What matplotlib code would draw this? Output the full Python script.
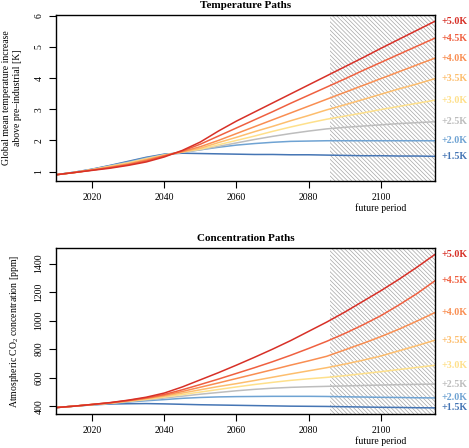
import matplotlib
matplotlib.use("Agg")
import matplotlib.pyplot as plt
from matplotlib.transforms import blended_transform_factory

years = [2010, 2015, 2020, 2025, 2030, 2035, 2040, 2045, 2050, 2055, 2060,
         2065, 2070, 2075, 2080, 2085, 2090, 2095, 2100, 2105, 2110, 2115]

path_labels = ['+1.5K', '+2.0K', '+2.5K', '+3.0K', '+3.5K', '+4.0K',
               '+4.5K', '+5.0K']
path_colors = ['#4575b4', '#6fa3d3', '#bdbdbd', '#fee08b', '#fdbe6e',
               '#f98e52', '#ef6040', '#d73027']

# global mean temperature increase [K]
temp_15 = [0.90, 0.98, 1.08, 1.20, 1.33, 1.46, 1.56, 1.59, 1.58, 1.57, 1.56,
           1.55, 1.55, 1.54, 1.54, 1.53, 1.52, 1.51, 1.51, 1.50, 1.50, 1.49]
temp_20 = [0.90, 0.98, 1.07, 1.19, 1.31, 1.44, 1.55, 1.62, 1.70, 1.78, 1.85,
           1.90, 1.94, 1.97, 1.98, 1.99, 1.99, 1.99, 1.99, 1.99, 1.99, 1.99]
temp_25 = [0.90, 0.98, 1.07, 1.18, 1.29, 1.42, 1.54, 1.62, 1.70, 1.81, 1.92,
           2.03, 2.13, 2.22, 2.30, 2.37, 2.42, 2.46, 2.50, 2.54, 2.57, 2.60]
temp_30 = [0.90, 0.97, 1.06, 1.17, 1.28, 1.41, 1.53, 1.63, 1.72, 1.86, 2.00,
           2.14, 2.29, 2.43, 2.56, 2.68, 2.78, 2.88, 2.99, 3.09, 3.19, 3.29]
temp_35 = [0.90, 0.97, 1.06, 1.16, 1.26, 1.39, 1.52, 1.63, 1.75, 1.93, 2.10,
           2.28, 2.45, 2.63, 2.80, 2.98, 3.14, 3.31, 3.48, 3.65, 3.81, 3.98]
temp_40 = [0.90, 0.97, 1.05, 1.14, 1.24, 1.37, 1.51, 1.64, 1.80, 2.00, 2.22,
           2.44, 2.66, 2.88, 3.10, 3.32, 3.54, 3.76, 3.98, 4.20, 4.42, 4.64]
temp_45 = [0.90, 0.97, 1.05, 1.13, 1.22, 1.34, 1.50, 1.66, 1.88, 2.14, 2.40,
           2.66, 2.92, 3.19, 3.45, 3.71, 3.97, 4.24, 4.50, 4.76, 5.02, 5.28]
temp_50 = [0.90, 0.97, 1.04, 1.11, 1.20, 1.31, 1.47, 1.68, 1.95, 2.30, 2.62,
           2.91, 3.20, 3.49, 3.78, 4.07, 4.36, 4.65, 4.95, 5.24, 5.53, 5.82]

# atmospheric CO2 concentration [ppm]
co2_15 = [390, 400, 409, 415, 417, 418, 416, 413, 410, 408, 406,
          404, 402, 400, 399, 398, 396, 394, 392, 391, 389, 388]
co2_20 = [390, 400, 410, 419, 429, 438, 446, 455, 461, 465, 467,
          468, 469, 469, 469, 468, 466, 464, 462, 461, 459, 458]
co2_25 = [390, 400, 410, 420, 432, 444, 457, 470, 484, 496, 508,
          518, 526, 532, 536, 539, 542, 545, 548, 551, 553, 555]
co2_30 = [390, 400, 411, 421, 434, 448, 464, 481, 499, 517, 535,
          552, 567, 581, 592, 602, 614, 628, 642, 657, 672, 687]
co2_35 = [390, 400, 411, 422, 436, 452, 470, 492, 515, 538, 558,
          580, 603, 626, 648, 670, 695, 722, 752, 788, 825, 863]
co2_40 = [390, 400, 412, 423, 438, 455, 476, 503, 533, 563, 594,
          625, 656, 688, 718, 750, 795, 840, 888, 940, 997, 1057]
co2_45 = [390, 400, 412, 424, 440, 458, 482, 515, 552, 590, 630,
          670, 712, 757, 805, 855, 910, 970, 1035, 1110, 1190, 1280]
co2_50 = [390, 400, 412, 425, 442, 463, 492, 535, 585, 635, 688,
          743, 800, 860, 925, 990, 1060, 1135, 1210, 1290, 1375, 1465]

temp_paths = [temp_15, temp_20, temp_25, temp_30, temp_35, temp_40,
              temp_45, temp_50]
co2_paths = [co2_15, co2_20, co2_25, co2_30, co2_35, co2_40, co2_45, co2_50]

future_start = 2086
future_end = 2115


def draw_panel(ax, paths, title, yticks, ylim):
    """
    Draw one panel with the hatched future period and labelled paths.
    """
    ax.axvspan(future_start, future_end, facecolor='none',
               edgecolor='#a6a6a6', hatch='\\' * 8, linewidth=0,
               zorder=0)
    trans = blended_transform_factory(ax.transAxes, ax.transData)
    for values, label, color in zip(paths, path_labels, path_colors):
        ax.plot(years, values, color=color, lw=1.1, zorder=2)
        ax.text(1.016, values[-1], label, transform=trans, color=color,
                fontsize=7.2, fontweight='bold', va='center', ha='left',
                clip_on=False)
    ax.set_xlim(2010, 2115)
    ax.set_ylim(*ylim)
    ax.set_xticks([2020, 2040, 2060, 2080, 2100])
    ax.set_yticks(yticks)
    ax.set_yticklabels([str(t) for t in yticks], rotation=90, va='center')
    ax.tick_params(direction='out', length=5, width=0.8, labelsize=7, pad=4)
    ax.set_title(title, fontsize=8, fontweight='bold', pad=5)
    for spine in ax.spines.values():
        spine.set_linewidth(1.0)
    ax.text((2100 - 2010) / 105.0, -0.165, 'future period',
            transform=ax.transAxes, ha='center', va='center', fontsize=7,
            clip_on=False)


plt.rcParams['font.family'] = ['Liberation Serif', 'DejaVu Serif']
plt.rcParams['mathtext.default'] = 'regular'
plt.rcParams['hatch.linewidth'] = 0.5

fig = plt.figure(figsize=(4.69, 4.48), dpi=100)
ax_temp = fig.add_axes([0.1194, 0.596, 0.808, 0.3705])
ax_co2 = fig.add_axes([0.1194, 0.0759, 0.808, 0.3705])

draw_panel(ax_temp, temp_paths, 'Temperature Paths', [1, 2, 3, 4, 5, 6],
           (0.70, 6.02))
draw_panel(ax_co2, co2_paths, 'Concentration Paths',
           [400, 600, 800, 1000, 1200, 1400], (345, 1510))

fig.text(12 / 469, 1 - 98 / 448,
         'Global mean temperature increase\nabove pre\u2013industrial [K]',
         rotation=90, ha='center', va='center', fontsize=7,
         multialignment='center')
fig.text(15 / 469, 1 - 331 / 448,
         'Atmospheric CO$_2$ concentration [ppm]',
         rotation=90, ha='center', va='center', fontsize=7)

fig.savefig('out.png', dpi=100)
